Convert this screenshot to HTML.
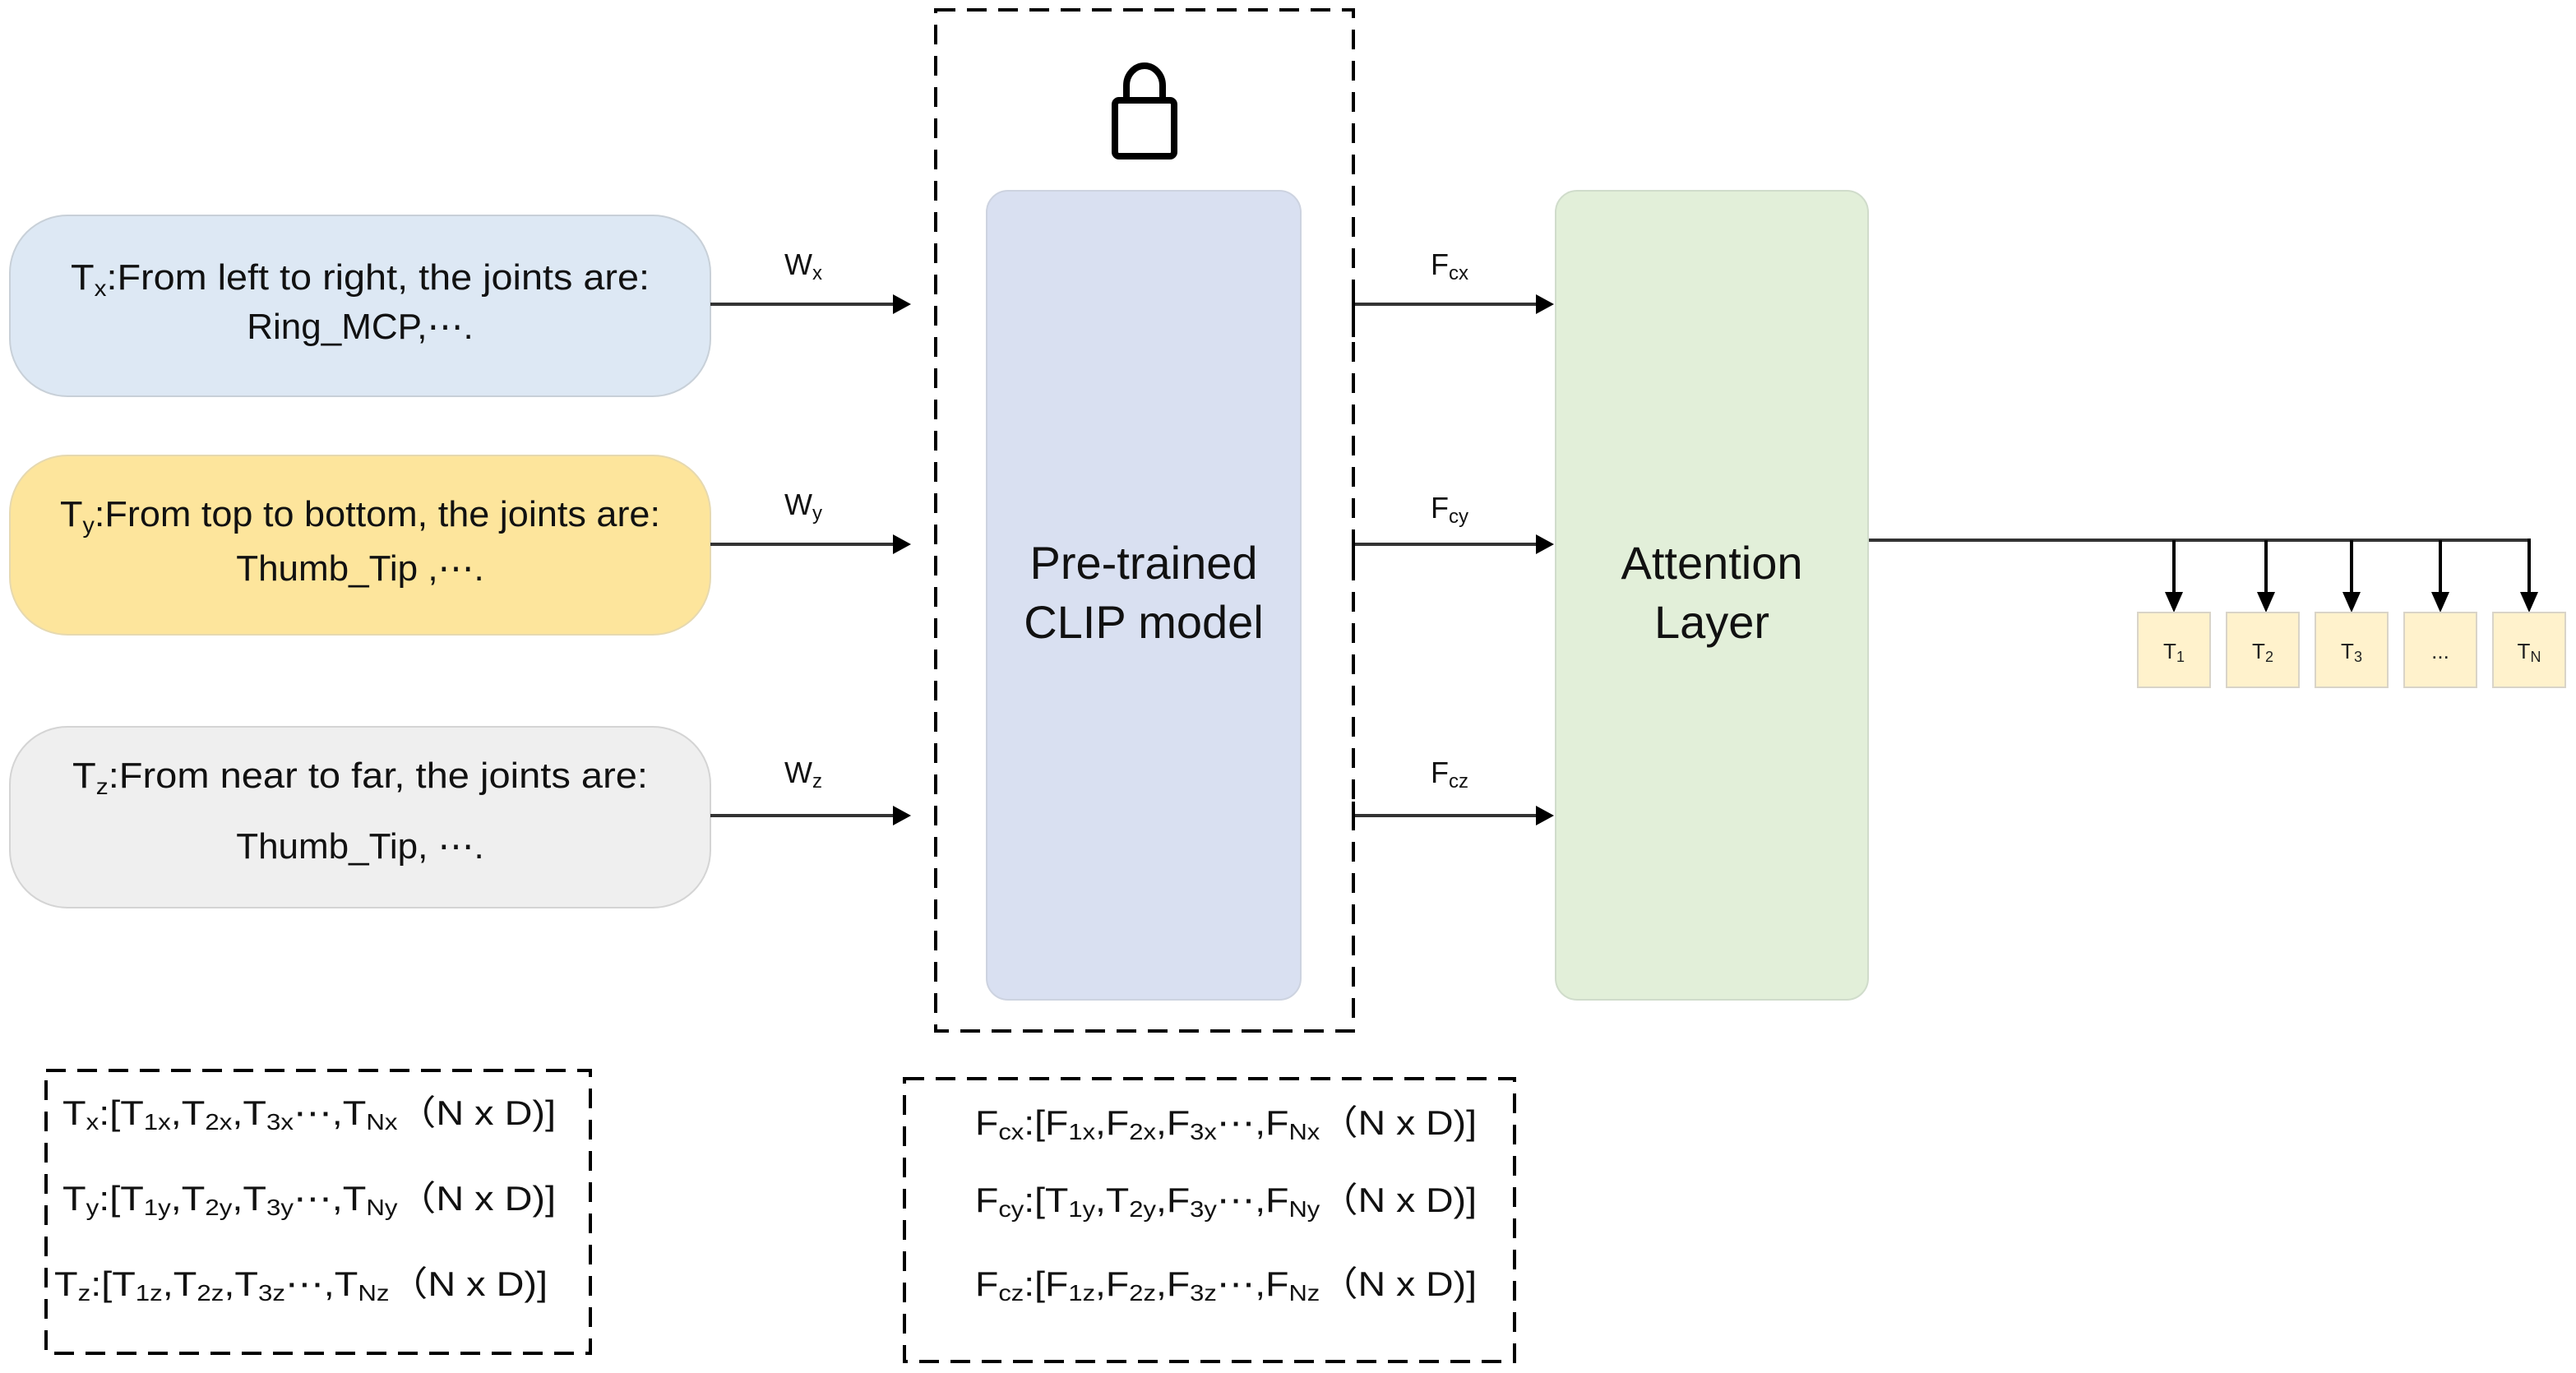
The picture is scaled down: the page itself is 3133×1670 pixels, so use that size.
<!DOCTYPE html>
<html><head><meta charset="utf-8"><style>
html,body{margin:0;padding:0;background:#fff;}
svg{display:block;font-family:"Liberation Sans",Arial,sans-serif;}
</style></head><body>
<svg width="3133" height="1670" viewBox="0 0 3133 1670" xmlns="http://www.w3.org/2000/svg">
<!-- left pills -->
<rect x="12" y="262" width="852" height="220" rx="70" fill="#dde8f4" stroke="#c8d0d8" stroke-width="2"/>
<rect x="12" y="554" width="852" height="218" rx="70" fill="#fde59c" stroke="#e6d9b0" stroke-width="2"/>
<rect x="12" y="884" width="852" height="220" rx="70" fill="#efefef" stroke="#d4d4d4" stroke-width="2"/>
<g font-size="44" fill="#111" text-anchor="middle">
<text x="438" y="352" textLength="704" lengthAdjust="spacingAndGlyphs">T<tspan font-size="28" dy="8">x</tspan><tspan dy="-8">:From left to right, the joints are:</tspan></text>
<text x="438" y="412">Ring_MCP,⋯.</text>
<text x="438" y="640" textLength="730" lengthAdjust="spacingAndGlyphs">T<tspan font-size="28" dy="8">y</tspan><tspan dy="-8">:From top to bottom, the joints are:</tspan></text>
<text x="438" y="706">Thumb_Tip ,⋯.</text>
<text x="438" y="958" textLength="700" lengthAdjust="spacingAndGlyphs">T<tspan font-size="28" dy="8">z</tspan><tspan dy="-8">:From near to far, the joints are:</tspan></text>
<text x="438" y="1044">Thumb_Tip, ⋯.</text>
</g>
<g stroke="#333" stroke-width="4">
<line x1="864" y1="370" x2="1090" y2="370"/>
<line x1="864" y1="662" x2="1090" y2="662"/>
<line x1="864" y1="992" x2="1090" y2="992"/>
<line x1="1646" y1="370" x2="1872" y2="370"/>
<line x1="1646" y1="662" x2="1872" y2="662"/>
<line x1="1646" y1="992" x2="1872" y2="992"/>
<line x1="2272" y1="657" x2="3078" y2="657"/>
</g>
<g fill="#000">
<polygon points="1086,358 1108,370 1086,382"/>
<polygon points="1086,650 1108,662 1086,674"/>
<polygon points="1086,980 1108,992 1086,1004"/>
<polygon points="1868,358 1890,370 1868,382"/>
<polygon points="1868,650 1890,662 1868,674"/>
<polygon points="1868,980 1890,992 1868,1004"/>
</g>
<g stroke="#000" stroke-width="4">
<line x1="1646" y1="360" x2="1646" y2="410"/>
<line x1="1646" y1="655" x2="1646" y2="700"/>
<line x1="1646" y1="975" x2="1646" y2="1010"/>
</g>
<g font-size="36" fill="#111">
<text x="954" y="334">W<tspan font-size="24" dy="6">x</tspan></text>
<text x="954" y="626">W<tspan font-size="24" dy="6">y</tspan></text>
<text x="954" y="952">W<tspan font-size="24" dy="6">z</tspan></text>
<text x="1740" y="334">F<tspan font-size="24" dy="6">cx</tspan></text>
<text x="1740" y="630">F<tspan font-size="24" dy="6">cy</tspan></text>
<text x="1740" y="952">F<tspan font-size="24" dy="6">cz</tspan></text>
</g>
<rect x="1138" y="12" width="508" height="1242" fill="none" stroke="#000" stroke-width="4" stroke-dasharray="24,14"/>
<!-- lock -->
<rect x="1356" y="122" width="72" height="68" rx="5" fill="none" stroke="#000" stroke-width="8"/>
<path d="M1370,122 V104 A22,24 0 0 1 1414,104 V122" fill="none" stroke="#000" stroke-width="8"/>
<rect x="1200" y="232" width="382" height="984" rx="26" fill="#d9e0f1" stroke="#cdd3e0" stroke-width="2"/>
<g font-size="56" fill="#111" text-anchor="middle">
<text x="1391" y="704">Pre-trained</text>
<text x="1391" y="776">CLIP model</text>
</g>
<rect x="1892" y="232" width="380" height="984" rx="26" fill="#e2efd9" stroke="#d0dccb" stroke-width="2"/>
<g font-size="56" fill="#111" text-anchor="middle">
<text x="2082" y="704">Attention</text>
<text x="2082" y="776">Layer</text>
</g>
<!-- output tokens -->
<g stroke="#000" stroke-width="4">
<line x1="2644" y1="657" x2="2644" y2="725"/>
<line x1="2756" y1="657" x2="2756" y2="725"/>
<line x1="2860" y1="657" x2="2860" y2="725"/>
<line x1="2968" y1="657" x2="2968" y2="725"/>
<line x1="3076" y1="655" x2="3076" y2="725"/>
</g>
<g fill="#000">
<polygon points="2633,720 2655,720 2644,745"/>
<polygon points="2745,720 2767,720 2756,745"/>
<polygon points="2849,720 2871,720 2860,745"/>
<polygon points="2957,720 2979,720 2968,745"/>
<polygon points="3065,720 3087,720 3076,745"/>
</g>
<g fill="#fff2cc" stroke="#d9d4c8" stroke-width="2">
<rect x="2600" y="745" width="88" height="91"/>
<rect x="2708" y="745" width="88" height="91"/>
<rect x="2816" y="745" width="88" height="91"/>
<rect x="2924" y="745" width="88" height="91"/>
<rect x="3032" y="745" width="88" height="91"/>
</g>
<g font-size="26" fill="#222" text-anchor="middle">
<text x="2644" y="801">T<tspan font-size="18" dy="4">1</tspan></text>
<text x="2752" y="801">T<tspan font-size="18" dy="4">2</tspan></text>
<text x="2860" y="801">T<tspan font-size="18" dy="4">3</tspan></text>
<text x="2968" y="801">...</text>
<text x="3076" y="801">T<tspan font-size="18" dy="4">N</tspan></text>
</g>
<rect x="56" y="1302" width="662" height="344" fill="none" stroke="#000" stroke-width="4" stroke-dasharray="24,14"/>
<g font-size="42" fill="#111">
<text x="76" y="1368" textLength="600" lengthAdjust="spacingAndGlyphs">T<tspan font-size="28" dy="6">x</tspan><tspan dy="-6">:[T</tspan><tspan font-size="28" dy="6">1x</tspan><tspan dy="-6">,T</tspan><tspan font-size="28" dy="6">2x</tspan><tspan dy="-6">,T</tspan><tspan font-size="28" dy="6">3x</tspan><tspan dy="-6">⋯,T</tspan><tspan font-size="28" dy="6">Nx</tspan><tspan dy="-6">（N x D)]</tspan></text>
<text x="76" y="1472" textLength="600" lengthAdjust="spacingAndGlyphs">T<tspan font-size="28" dy="6">y</tspan><tspan dy="-6">:[T</tspan><tspan font-size="28" dy="6">1y</tspan><tspan dy="-6">,T</tspan><tspan font-size="28" dy="6">2y</tspan><tspan dy="-6">,T</tspan><tspan font-size="28" dy="6">3y</tspan><tspan dy="-6">⋯,T</tspan><tspan font-size="28" dy="6">Ny</tspan><tspan dy="-6">（N x D)]</tspan></text>
<text x="66" y="1576" textLength="600" lengthAdjust="spacingAndGlyphs">T<tspan font-size="28" dy="6">z</tspan><tspan dy="-6">:[T</tspan><tspan font-size="28" dy="6">1z</tspan><tspan dy="-6">,T</tspan><tspan font-size="28" dy="6">2z</tspan><tspan dy="-6">,T</tspan><tspan font-size="28" dy="6">3z</tspan><tspan dy="-6">⋯,T</tspan><tspan font-size="28" dy="6">Nz</tspan><tspan dy="-6">（N x D)]</tspan></text>
</g>
<rect x="1100" y="1312" width="742" height="344" fill="none" stroke="#000" stroke-width="4" stroke-dasharray="24,14"/>
<g font-size="42" fill="#111">
<text x="1186" y="1380" textLength="610" lengthAdjust="spacingAndGlyphs">F<tspan font-size="28" dy="6">cx</tspan><tspan dy="-6">:[F</tspan><tspan font-size="28" dy="6">1x</tspan><tspan dy="-6">,F</tspan><tspan font-size="28" dy="6">2x</tspan><tspan dy="-6">,F</tspan><tspan font-size="28" dy="6">3x</tspan><tspan dy="-6">⋯,F</tspan><tspan font-size="28" dy="6">Nx</tspan><tspan dy="-6">（N x D)]</tspan></text>
<text x="1186" y="1474" textLength="610" lengthAdjust="spacingAndGlyphs">F<tspan font-size="28" dy="6">cy</tspan><tspan dy="-6">:[T</tspan><tspan font-size="28" dy="6">1y</tspan><tspan dy="-6">,T</tspan><tspan font-size="28" dy="6">2y</tspan><tspan dy="-6">,F</tspan><tspan font-size="28" dy="6">3y</tspan><tspan dy="-6">⋯,F</tspan><tspan font-size="28" dy="6">Ny</tspan><tspan dy="-6">（N x D)]</tspan></text>
<text x="1186" y="1576" textLength="610" lengthAdjust="spacingAndGlyphs">F<tspan font-size="28" dy="6">cz</tspan><tspan dy="-6">:[F</tspan><tspan font-size="28" dy="6">1z</tspan><tspan dy="-6">,F</tspan><tspan font-size="28" dy="6">2z</tspan><tspan dy="-6">,F</tspan><tspan font-size="28" dy="6">3z</tspan><tspan dy="-6">⋯,F</tspan><tspan font-size="28" dy="6">Nz</tspan><tspan dy="-6">（N x D)]</tspan></text>
</g>
</svg>
</body></html>
